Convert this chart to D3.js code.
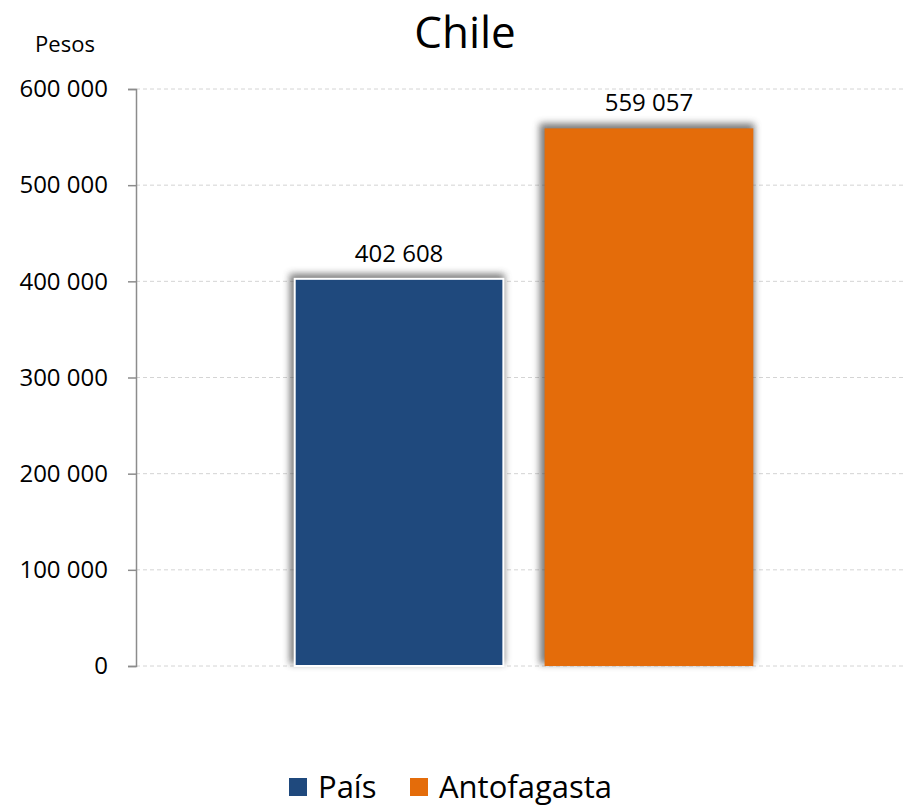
<!DOCTYPE html>
<html><head><meta charset="utf-8">
<script src="https://cdn.jsdelivr.net/npm/d3@7"></script>
<style>body{margin:0;background:#fff}svg{display:block;font-family:"Open Sans","Noto Sans",sans-serif}</style>
</head><body><svg id="c" width="904" height="806"></svg>
<script>
const categories = ["País", "Antofagasta"];
const values = [402608, 559057];
const colors = ["#1f497d", "#e46c0a"];
const yTicks = [0, 100000, 200000, 300000, 400000, 500000, 600000];
const title = "Chile";
const yLabel = "Pesos";

const FONT = '"Open Sans","Noto Sans",sans-serif';
const svg = d3.select("#c");
const fmt = v => d3.format(",")(v).replace(/,/g, " ");
const y = d3.scaleLinear().domain([0, 600000]).range([666, 89]);
const x = d3.scaleBand().domain(categories).range([136, 912]).paddingInner(0.165).paddingOuter(0.635);

const defs = svg.append("defs");
const f = defs.append("filter").attr("id","sh").attr("x","-20%").attr("y","-20%").attr("width","140%").attr("height","140%");
f.append("feGaussianBlur").attr("stdDeviation", 3.5);

// grid
svg.append("g").selectAll("line").data(yTicks).join("line")
  .attr("x1",136).attr("x2",903).attr("y1",d=>y(d)).attr("y2",d=>y(d))
  .attr("stroke","#d4d4d4").attr("stroke-dasharray","4,3").attr("stroke-width",1);

// axis
const ax = svg.append("g").attr("transform","translate(136,0)")
  .call(d3.axisLeft(y).tickValues(yTicks).tickSize(8).tickPadding(20).tickFormat(fmt));
ax.attr("font-family", FONT);
ax.select(".domain").attr("stroke","#8c8c8c").attr("stroke-width",1.5);
ax.selectAll(".tick line").attr("stroke","#8c8c8c").attr("stroke-width",1.5);
ax.selectAll("text").attr("font-size",24).attr("fill","#000");

// bars
const g = svg.append("g");
g.selectAll("rect.s").data(values).join("rect").attr("class","s")
  .attr("x",(d,i)=>x(categories[i])-5).attr("y",d=>y(d)-5)
  .attr("width",x.bandwidth()+6).attr("height",d=>y(0)-y(d)+3)
  .attr("fill","#444").attr("opacity",0.7).attr("filter","url(#sh)");
g.selectAll("rect.b").data(values).join("rect").attr("class","b")
  .attr("x",(d,i)=>x(categories[i])).attr("y",d=>y(d))
  .attr("width",x.bandwidth()).attr("height",d=>y(0)-y(d))
  .attr("fill",(d,i)=>colors[i]).attr("stroke","#fff").attr("stroke-width",(d,i)=>i==0?2:0);
g.selectAll("text").data(values).join("text")
  .attr("x",(d,i)=>x(categories[i])+x.bandwidth()/2).attr("y",d=>y(d)-17)
  .attr("text-anchor","middle").attr("font-size",24).text(fmt);

svg.append("text").attr("x",465).attr("y",48).attr("text-anchor","middle").attr("font-size",44).text(title);
svg.append("text").attr("x",65).attr("y",52).attr("text-anchor","middle").attr("font-size",22).text(yLabel);

// legend
const lg = svg.append("g");
const lx = [289, 410];
categories.forEach((c,i)=>{
  lg.append("rect").attr("x",lx[i]).attr("y",778).attr("width",18).attr("height",18).attr("fill",colors[i]);
  lg.append("text").attr("x",lx[i]+29).attr("y",798).attr("font-size",31).text(c);
});
</script></body></html>
